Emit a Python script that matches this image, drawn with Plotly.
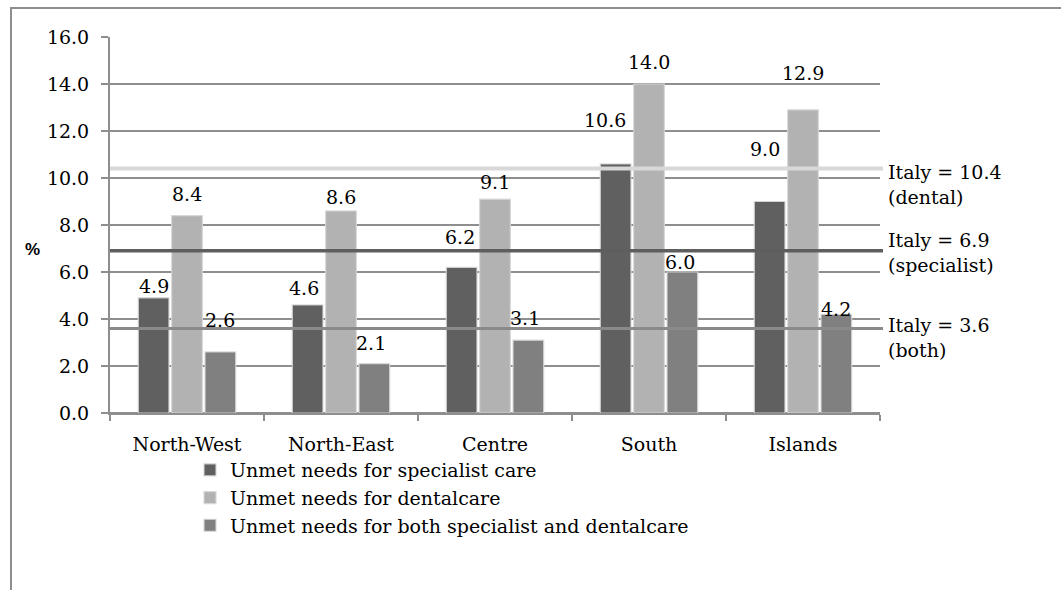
import plotly.graph_objects as go

# Regions and unmet-need rates (%)
regions = ["North-West", "North-East", "Centre", "South", "Islands"]
specialist = [4.9, 4.6, 6.2, 10.6, 9.0]
dental = [8.4, 8.6, 9.1, 14.0, 12.9]
both = [2.6, 2.1, 3.1, 6.0, 4.2]

# National averages (%)
italy_dental = 10.4
italy_specialist = 6.9
italy_both = 3.6

series_names = [
    "Unmet needs for specialist care",
    "Unmet needs for dentalcare",
    "Unmet needs for both specialist and dentalcare",
]
y_ticks = [0, 2, 4, 6, 8, 10, 12, 14, 16]

# styling
W, H = 1061, 590
L, R, T, B = 110, 181, 37, 177
plot_w = W - L - R
plot_h = H - T - B
colors = ["#606060", "#b2b2b2", "#808080"]
SERIF = "DejaVu Serif"
FS = 19
GRID = "#8e8e8e"

fig = go.Figure()
for name, vals, col in zip(series_names, [specialist, dental, both], colors):
    fig.add_trace(go.Bar(
        x=regions, y=vals, name=name,
        marker=dict(color=col, line=dict(color="rgba(215,215,215,0.9)", width=1.2)),
        hoverinfo="x+y",
    ))

# value labels above each bar (pixel nudges per label)
slot = (1 - 0.35) * plot_w / len(regions) / 3
label_lift = [
    [12, 17, 30, 44, 53],
    [22, 14, 17, 22, 37],
    [32, 21, 22, 10, 5],
]
label_nudge = [
    [0, -4, -2, -11, -5],
    [0, 0, 0, 0, 0],
    [0, -3, -3, -2, 0],
]
annotations = []
for s, vals in enumerate([specialist, dental, both]):
    for i, (reg, v) in enumerate(zip(regions, vals)):
        annotations.append(dict(
            x=reg, y=v, xref="x", yref="y", text=f"{v:.1f}", showarrow=False,
            xshift=(s - 1) * slot + label_nudge[s][i], yshift=label_lift[s][i],
            xanchor="center", yanchor="middle",
            font=dict(family=SERIF, size=FS, color="#000000"),
        ))

# national average labels on the right
for val, txt, shift in [
    (italy_dental, f"Italy = {italy_dental:.1f}<br>(dental)", -16),
    (italy_specialist, f"Italy = {italy_specialist:.1f}<br>(specialist)", -2),
    (italy_both, f"Italy = {italy_both:.1f}<br>(both)", -9),
]:
    annotations.append(dict(
        x=(886 - L) / plot_w, y=val, xref="paper", yref="y", text=txt,
        showarrow=False, xanchor="left", yanchor="middle", align="left",
        yshift=shift, font=dict(family=SERIF, size=FS, color="#000000"),
    ))

# y-axis title
annotations.append(dict(
    x=(32 - L) / plot_w, y=(H - B - 250) / plot_h, xref="paper", yref="paper",
    text="<b>%</b>", showarrow=False, xanchor="center", yanchor="middle",
    font=dict(family="Liberation Sans", size=17, color="#000000"),
))

shapes = []
# national average lines
for val, col, wd in [
    (italy_dental, "#d8d8d8", 4),
    (italy_specialist, "#5e5e5e", 3.5),
    (italy_both, "#8a8a8a", 3),
]:
    shapes.append(dict(
        type="line", xref="paper", yref="y", x0=0, x1=(883 - L) / plot_w,
        y0=val, y1=val, line=dict(color=col, width=wd), layer="above",
    ))

# outer chart frame (left and top edges)
fx0 = (11 - L) / plot_w
fy_top = (H - B - 8) / plot_h
fy_bot = (H - B - 600) / plot_h
fx1 = (1080 - L) / plot_w
shapes.append(dict(
    type="path", xref="paper", yref="paper",
    path=f"M {fx0},{fy_bot} L {fx0},{fy_top} L {fx1},{fy_top}",
    line=dict(color="#8e8e8e", width=2),
))

fig.update_layout(
    width=W, height=H,
    margin=dict(l=L, r=R, t=T, b=B, pad=0),
    paper_bgcolor="white", plot_bgcolor="white",
    barmode="group", bargap=0.35, bargroupgap=0.08,
    font=dict(family=SERIF, size=FS, color="#000000"),
    showlegend=True,
    legend=dict(
        x=(190 - L) / plot_w, y=(H - B - 451) / plot_h,
        xanchor="left", yanchor="top", orientation="v",
        font=dict(family=SERIF, size=FS, color="#000000"),
        bgcolor="rgba(0,0,0,0)", itemwidth=30, tracegroupgap=2,
    ),
    annotations=annotations,
    shapes=shapes,
    xaxis=dict(
        type="category", showgrid=False, showline=True, linecolor=GRID, linewidth=2,
        ticks="outside", tickson="boundaries", ticklen=6, tickcolor=GRID, tickwidth=2,
        ticklabelstandoff=13, tickfont=dict(family=SERIF, size=FS, color="#000000"),
        fixedrange=True,
    ),
    yaxis=dict(
        range=[0, 16], tickvals=y_ticks, ticktext=[f"{t:.1f}" for t in y_ticks],
        showgrid=True, gridcolor=GRID, gridwidth=2,
        zeroline=True, zerolinecolor=GRID, zerolinewidth=2,
        showline=True, linecolor=GRID, linewidth=2,
        ticks="outside", ticklen=7, tickcolor=GRID, tickwidth=2,
        ticklabelstandoff=8, tickfont=dict(family=SERIF, size=FS, color="#000000"),
        fixedrange=True,
    ),
)

fig.write_html("out.html")
